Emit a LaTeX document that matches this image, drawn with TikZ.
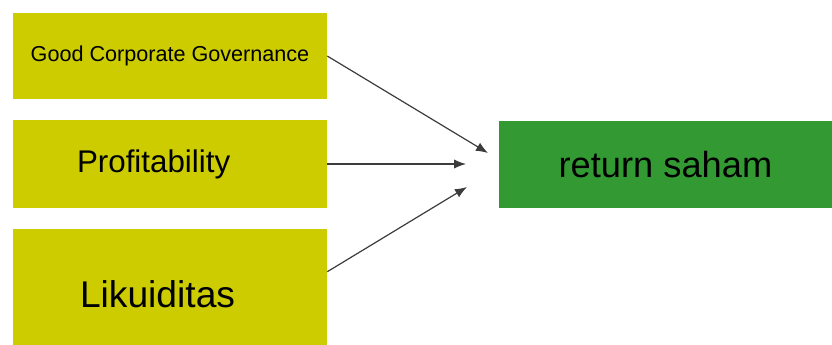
\documentclass[tikz,border=0pt]{standalone}
\usepackage{fontspec}
\setmainfont{Liberation Sans}
\usetikzlibrary{arrows.meta, positioning}
\definecolor{factorcolor}{RGB}{204,204,0}
\definecolor{returncolor}{RGB}{51,153,51}
\definecolor{linkcolor}{RGB}{60,60,60}

\begin{document}
\begin{tikzpicture}[
    x=0.75pt, y=-0.75pt,
    factor/.style={fill=factorcolor, minimum width=235.5pt, inner sep=0pt},
    target/.style={fill=returncolor, minimum width=249.75pt, minimum height=65.25pt, inner sep=0pt},
    arrow/.style={-{Latex[length=9pt, width=7pt]}, line width=0.9pt, linkcolor}
]
    \useasboundingbox (0,0) rectangle (832,344);

    % Independent variables
    \node[factor, minimum height=64.5pt, font=\fontsize{16.2}{19}\selectfont] (gcg) at (170,56) {Good Corporate Governance};
    \node[factor, minimum height=66pt, text width=139.5pt, align=left, font=\fontsize{23.5}{28}\selectfont] (profit) at (170,164) {Profitability};
    \node[factor, minimum height=98.25pt, text width=135pt, align=left, font=\fontsize{27.9}{33}\selectfont] (likuid) at (170,294.5) {Likuiditas};

    % Dependent variable
    \node[target, font=\fontsize{27.2}{32}\selectfont] (saham) at (665.5,164.5) {return saham};

    % Arrow tips
    \coordinate (tipgcg) at (488,153);
    \coordinate (tipprofit) at (466,164);
    \coordinate (tiplikuid) at (467,187);

    % Connections
    \draw[arrow] (gcg.east) -- (tipgcg);
    \draw[arrow] (profit.east) -- (tipprofit);
    \draw[arrow] ([yshift=-32.25pt]likuid.north east) -- (tiplikuid);
\end{tikzpicture}
\end{document}
